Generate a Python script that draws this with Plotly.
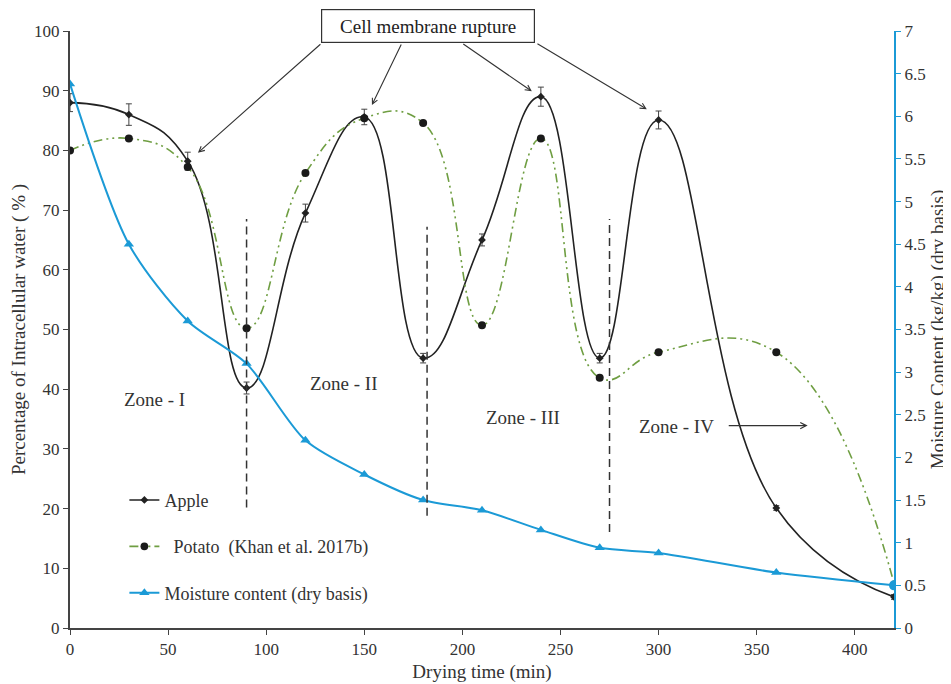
import plotly.graph_objects as go

# ---- data ----
time_min = [0, 30, 60, 90, 120, 150, 180, 210, 240, 270, 300, 360, 420]
apple = [88, 86, 78.2, 40.2, 69.5, 85.6, 45.2, 65, 89, 45.2, 85.1, 20.1, 5.2]
apple_err = [1.5, 1.8, 1.5, 1.0, 1.5, 1.3, 0.8, 1.0, 1.6, 0.8, 1.5, 0.4, 0.4]
potato = [80, 82, 77.2, 50.2, 76.2, 85.4, 84.6, 50.7, 82, 41.9, 46.2, 46.2, 7.5]
moisture = [6.38, 4.5, 3.6, 3.1, 2.2, 1.8, 1.5, 1.38, 1.15, 0.94, 0.88, 0.65, 0.5]

zone_x = [90, 182, 275]
zone_top = [68.5, 67.2, 68.5]
zone_bottom = [20.2, 18.8, 16.1]

zone_labels = ["Zone - I", "Zone - II", "Zone - III", "Zone - IV"]
zone_label_x = [43.3, 139.6, 230.8, 309]
zone_label_y = [38.2, 40.9, 35.2, 33.8]

rupture_head_x = [65.2, 153.9, 235.4, 294.0]
rupture_head_y = [79.6, 87.6, 89.9, 86.9]
rupture_tail_x = [128.4, 169.2, 199.7, 237.5]
rupture_tail_y = [98.0, 98.0, 98.0, 98.0]

FONT = "Liberation Serif"
TXT = "#333333"
BLUE = "#1b9ad6"
GREEN = "#6f9e42"

fig = go.Figure()

fig.add_trace(go.Scatter(
    x=time_min, y=apple, name="Apple", mode="lines+markers",
    line=dict(color="#222222", width=1.6, shape="spline", smoothing=1.3),
    marker=dict(symbol="diamond", size=6, color="#222222", opacity=1),
    error_y=dict(type="data", array=apple_err, visible=True,
                 color="#444444", thickness=1, width=3),
    legendgroup="a",
))
fig.add_trace(go.Scatter(
    x=time_min, y=potato, name="  Potato  (Khan et al. 2017b)", mode="lines+markers",
    line=dict(color=GREEN, width=1.6, shape="spline", smoothing=1.3,
              dash="9px,4px,2px,4px,2px,4px"),
    marker=dict(symbol="circle", size=[8] * 12 + [5], color="#1a1a1a", opacity=1,
                line=dict(width=0)),
    legendgroup="b",
))
fig.add_trace(go.Scatter(
    x=time_min, y=moisture, name="Moisture content (dry basis)", mode="lines+markers",
    yaxis="y2",
    line=dict(color=BLUE, width=2, shape="spline", smoothing=0.8),
    marker=dict(symbol=["triangle-up"] * 12 + ["circle"], size=[9] * 12 + [10],
                color=BLUE, opacity=1, line=dict(width=0)),
    legendgroup="c",
))

shapes = []
for zx, zt, zb in zip(zone_x, zone_top, zone_bottom):
    shapes.append(dict(type="line", xref="x", yref="y", x0=zx, x1=zx, y0=zb, y1=zt,
                       line=dict(color="#333333", width=1.5, dash="8px,5px")))

annotations = []
for lbl, lx, ly in zip(zone_labels, zone_label_x, zone_label_y):
    annotations.append(dict(x=lx, y=ly, xref="x", yref="y", text=lbl, showarrow=False,
                            font=dict(family=FONT, size=19, color=TXT)))
# Zone IV arrow
annotations.append(dict(x=376, y=33.9, ax=335, ay=33.9, xref="x", yref="y",
                        axref="x", ayref="y", text="", showarrow=True,
                        arrowhead=5, arrowsize=1, arrowwidth=1.2, arrowcolor="#333333"))
# rupture arrows
for hx, hy, tx, ty in zip(rupture_head_x, rupture_head_y, rupture_tail_x, rupture_tail_y):
    annotations.append(dict(x=hx, y=hy, ax=tx, ay=ty, xref="x", yref="y",
                            axref="x", ayref="y", text="", showarrow=True,
                            arrowhead=5, arrowsize=1, arrowwidth=1.1, arrowcolor="#333333"))
annotations.append(dict(x=182.4, y=1.0084, xref="x", yref="paper", yanchor="middle",
                        xanchor="center", text="Cell membrane rupture",
                        showarrow=False, font=dict(family=FONT, size=19, color="#222222"),
                        bordercolor="#333333", borderwidth=1.2, borderpad=4,
                        bgcolor="white", width=204, height=24))

# page body has an 8px margin, so the figure is 8px smaller than the window
fig.update_layout(
    width=943, height=676,
    margin=dict(l=62, r=57, t=23, b=56),
    paper_bgcolor="white", plot_bgcolor="white",
    font=dict(family=FONT, size=17, color=TXT),
    showlegend=True,
    legend=dict(x=0.066, y=0.245, xanchor="left", yanchor="top", itemwidth=30,
                bgcolor="rgba(0,0,0,0)", font=dict(family=FONT, size=18, color=TXT),
                traceorder="grouped", tracegroupgap=20),
    xaxis=dict(range=[0, 420], tickvals=[0, 50, 100, 150, 200, 250, 300, 350, 400],
               automargin=False,
               showgrid=False, zeroline=False, showline=True, linecolor="#444444",
               linewidth=2, ticks="outside", ticklen=5, tickcolor="#444444",
               title=dict(text="Drying time (min)", font=dict(size=19), standoff=6),
               tickfont=dict(size=17)),
    yaxis=dict(range=[0, 100], dtick=10, showgrid=False, zeroline=False, showline=True,
               automargin=False,
               linecolor="#444444", linewidth=2, ticks="outside", ticklen=5,
               tickcolor="#444444",
               title=dict(text="Percentage of Intracellular water ( % )", font=dict(size=19),
                          standoff=8),
               tickfont=dict(size=17)),
    yaxis2=dict(range=[0, 7], dtick=0.5, overlaying="y", side="right", anchor="x",
                automargin=False,
                showgrid=False, zeroline=False, showline=True, linecolor=BLUE,
                linewidth=2, ticks="outside", ticklen=5, tickcolor=BLUE,
                title=dict(text="Moisture Content (kg/kg) (dry basis)", font=dict(size=19),
                           standoff=6),
                tickfont=dict(size=17)),
    shapes=shapes,
    annotations=annotations,
)

fig.write_html("out.html")
